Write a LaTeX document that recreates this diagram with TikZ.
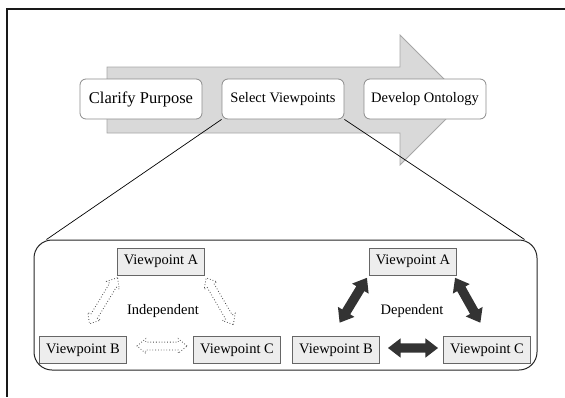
\documentclass[tikz,border=0pt]{standalone}
\usepackage{fontspec}
\setmainfont{Liberation Serif}
\usetikzlibrary{shapes.arrows,calc}

\tikzset{
  stage/.style={draw=black!45, fill=white, rounded corners=6pt, line width=0.8pt,
    minimum width=122pt, minimum height=40pt, inner sep=0pt,
    font=\fontsize{14.5}{17}\selectfont},
  view/.style={draw=black!60, fill=black!7, line width=0.9pt,
    minimum width=87pt, minimum height=27pt, inner sep=0pt,
    font=\fontsize{14.5}{16}\selectfont},
  indarrow/.style={double arrow, draw=black!70, dotted, fill=white, line width=0.8pt,
    inner sep=0pt, inner ysep=3.5pt, double arrow head extend=3.5pt,
    double arrow tip angle=80, sloped},
  deparrow/.style={double arrow, fill=black!80, inner sep=0pt, inner ysep=4.5pt,
    double arrow head extend=5pt, double arrow tip angle=75, sloped},
}

\begin{document}
\begin{tikzpicture}[x=1pt, y=-1pt]
   \useasboundingbox (0,0) rectangle (565,397);
   % frame
   \draw[line width=1.4pt, black!90] (565,9) -- (7,9) -- (7,397);

   % process arrow
   \fill[black!15, draw=black!35, line width=0.8pt] (107,67) -- (400,67) -- (400,35) -- (465,100)
      -- (400,165) -- (400,133) -- (107,133) -- cycle;
   \node[stage, font=\fontsize{16.5}{19}\selectfont] (clarify) at (141,99) {Clarify Purpose};
   \node[stage] (select) at (283,99) {Select Viewpoints};
   \node[stage] (develop) at (425,99) {Develop Ontology};

   % zoomed detail
   \node[draw=black!85, line width=1pt, rounded corners=18pt, minimum width=503pt,
      minimum height=130pt] (detail) at (285.5,305) {};
   \draw[line width=0.7pt] (select.south west) -- ([xshift=13pt]detail.north west);
   \draw[line width=0.7pt] (select.south east) -- ([xshift=-13pt]detail.north east);

   % independent
   \node[view] (lA) at (161,261.5) {Viewpoint A};
   \node[view] (lB) at (83,350) {Viewpoint B};
   \node[view] (lC) at (237,350) {Viewpoint C};
   \node[font=\fontsize{14.5}{16}\selectfont] (indep) at (163,311.5) {Independent};
   \path ([xshift=7pt,yshift=13pt]lB.north) -- node[indarrow, minimum height=54pt]{} ([yshift=-3pt]lA.south west);
   \path ([xshift=-4pt,yshift=12pt]lC.north) -- node[indarrow, minimum height=54pt]{} ([xshift=1.5pt,yshift=-3pt]lA.south east);
   \path ([xshift=10.5pt,yshift=4pt]lB.east) -- node[indarrow, minimum height=50pt]{} ([xshift=-6.5pt,yshift=4pt]lC.west);

   % dependent
   \node[view] (rA) at (413,261.5) {Viewpoint A};
   \node[view] (rB) at (336,350) {Viewpoint B};
   \node[view] (rC) at (487,350) {Viewpoint C};
   \node[font=\fontsize{14.5}{16}\selectfont] (dep) at (412,311.5) {Dependent};
   \path ([xshift=4pt,yshift=14pt]rB.north) -- node[deparrow, minimum height=52.5pt]{} ([xshift=-2.5pt,yshift=-3pt]rA.south west);
   \path ([xshift=-7pt,yshift=14pt]rC.north) -- node[deparrow, minimum height=51.5pt]{} ([xshift=-1.5pt,yshift=-3pt]rA.south east);
   \path ([xshift=8.5pt,yshift=2pt]rB.east) -- node[deparrow, minimum height=50pt]{} ([xshift=-5.5pt,yshift=2pt]rC.west);
\end{tikzpicture}
\end{document}
